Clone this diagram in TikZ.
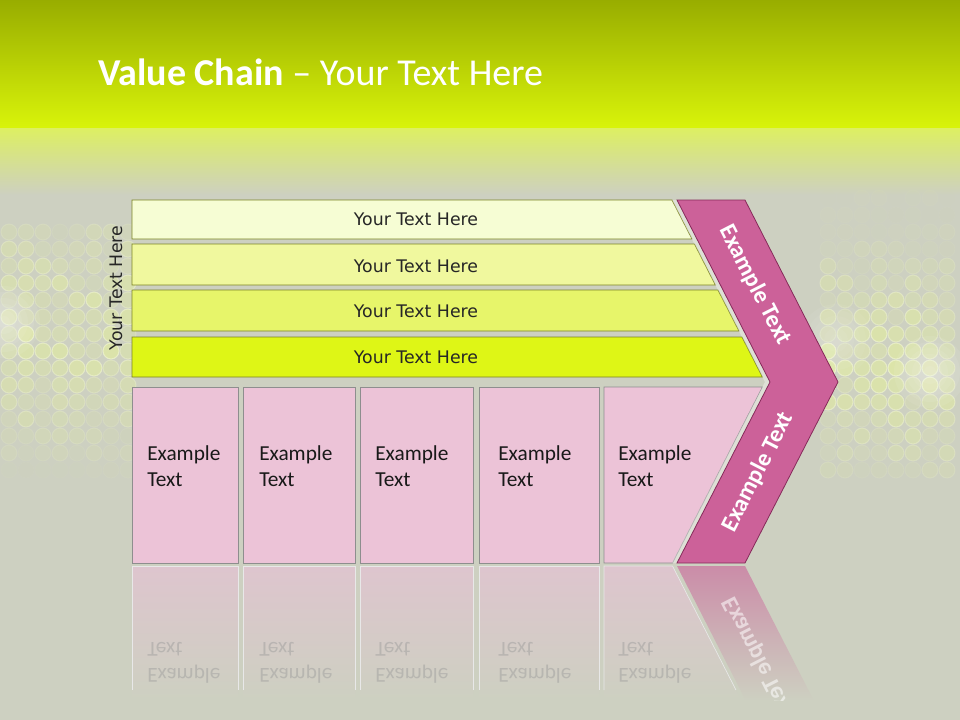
\documentclass[tikz,border=0pt]{standalone}
\usepackage{fontspec}
\setmainfont{Carlito}
\newfontfamily\barfont{DejaVu Sans}

\definecolor{bggrey}{HTML}{CDD0C1}
\definecolor{topolive}{HTML}{98AD00}
\definecolor{toplime}{HTML}{D9F40A}
\definecolor{bandlime}{HTML}{DDEF62}
\definecolor{barone}{HTML}{F6FDD4}
\definecolor{bartwo}{HTML}{F0F89E}
\definecolor{barthree}{HTML}{E7F56A}
\definecolor{barfour}{HTML}{DEF616}
\definecolor{barline}{HTML}{7C8426}
\definecolor{boxpink}{HTML}{ECC3D7}
\definecolor{boxline}{HTML}{8E8E8E}
\definecolor{chevpink}{HTML}{CC6199}
\definecolor{chevline}{HTML}{862A5A}
\definecolor{reflpink}{HTML}{DEC5CE}
\definecolor{reflchev}{HTML}{CB8CA8}
\definecolor{bokeh}{HTML}{E6F29A}

\tikzset{
  bar/.style={draw=barline, line width=0.6pt},
  pinkbox/.style={draw=boxline, fill=boxpink, line width=0.5pt},
  bartext/.style={font=\barfont\fontsize{13bp}{15bp}\selectfont, text=black!85},
  boxtext/.style={font=\fontsize{16bp}{19.5bp}\selectfont, align=left, anchor=west, inner sep=0pt, text=black!90},
  chevtext/.style={font=\bfseries\fontsize{18bp}{20bp}\selectfont, text=white},
  reflbox/.style={top color=reflpink, bottom color=bggrey},
  reflside/.style={draw=boxline!20, line width=0.5pt},
  refltext/.style={boxtext, yscale=-1, text=black!40, opacity=0.45},
  bokehdot/.style={fill=bokeh, draw=white!60!bokeh, line width=0.8pt}
}

\begin{document}
\begin{tikzpicture}[x=0.75bp, y=-0.75bp]
    \useasboundingbox (0,0) rectangle (960,720);
    % background
    \fill[bggrey] (0,0) rectangle (960,720);
    \shade[top color=topolive, bottom color=toplime] (0,0) rectangle (960,128);
    \shade[top color=bandlime, bottom color=bggrey] (0,128) rectangle (960,195);

    % bokeh
    \pgfmathsetseed{11}
    \foreach \cx in {9,26,...,130} \foreach \cy in {232,249,...,470} {
        \pgfmathsetmacro\op{max(0.05,0.75-abs(\cy-335)/200)*(0.3+0.7*rnd)}
        \draw[bokehdot, opacity=\op] (\cx,\cy) circle (8);
    }
    \foreach \cx in {828,845,...,960} \foreach \cy in {198,215,...,480} {
        \pgfmathsetmacro\op{max(0.05,0.7-abs(\cy-365)/220)*(0.3+0.7*rnd)}
        \draw[bokehdot, opacity=\op] (\cx,\cy) circle (8);
    }
    \foreach \r in {6,12,...,36} {
        \fill[white, opacity=0.07] (930,372) circle (\r);
        \fill[white, opacity=0.07] (4,322) circle (\r);
        \fill[white, opacity=0.05] (836,340) circle (\r);
    }

    \node (title) [anchor=base west, inner sep=0pt, text=white, font=\fontsize{28.5bp}{34bp}\selectfont] at (98,85) {\textbf{Value Chain} – Your Text Here};

    % bars
    \draw[bar, fill=barone] (132,200)--(672,200)--(692,239)--(132,239)--cycle;
    \draw[bar, fill=bartwo] (132,244)--(694.5,244)--(715.4,285)--(132,285)--cycle;
    \draw[bar, fill=barthree] (132,290)--(718,290)--(739,331)--(132,331)--cycle;
    \draw[bar, fill=barfour] (132,337)--(742,337)--(762.4,377)--(132,377)--cycle;
    \node (bar1) [bartext] at (416,219) {Your Text Here};
    \node (bar2) [bartext] at (416,266) {Your Text Here};
    \node (bar3) [bartext] at (416,311) {Your Text Here};
    \node (bar4) [bartext] at (416,357) {Your Text Here};
    \node (side) [bartext, rotate=90] at (116,288) {Your Text Here};

    % boxes
    \draw[pinkbox] (132,387) rectangle (238,563);
    \draw[pinkbox] (243,387) rectangle (355,563);
    \draw[pinkbox] (360,387) rectangle (473,563);
    \draw[pinkbox] (479,387) rectangle (599,563);
    \draw[pinkbox] (604,387)--(762.4,387)--(672.5,563)--(604,563)--cycle;
    \node (box1) [boxtext] at (147,466) {Example\\Text};
    \node (box2) [boxtext] at (259,466) {Example\\Text};
    \node (box3) [boxtext] at (375,466) {Example\\Text};
    \node (box4) [boxtext] at (498,466) {Example\\Text};
    \node (box5) [boxtext] at (618,466) {Example\\Text};

    % chevron
    \fill[white, opacity=0.35] (672,200)--(740,200)--(833,382)--(740,563)--(672,563)--(765,382)--cycle;
    \draw[draw=chevline, fill=chevpink, line width=0.6pt] (677,200)--(745,200)--(838,382)--(745,563)--(677,563)--(770,382)--cycle;
    \node (chevtop) [chevtext, rotate=-62.9] at (755,285) {Example Text};
    \node (chevbot) [chevtext, rotate=62.9] at (758,472) {Example Text};

    % reflection
    \shade[reflbox] (132,566) rectangle (238,700);
    \shade[reflbox] (243,566) rectangle (355,700);
    \shade[reflbox] (360,566) rectangle (473,700);
    \shade[reflbox] (479,566) rectangle (599,700);
    \shade[reflbox] (604,566)--(672.5,566)--(741,700)--(604,700)--cycle;
    \draw[reflside] (132,690)--(132,566)--(238,566)--(238,690);
    \draw[reflside] (243,690)--(243,566)--(355,566)--(355,690);
    \draw[reflside] (360,690)--(360,566)--(473,566)--(473,690);
    \draw[reflside] (479,690)--(479,566)--(599,566)--(599,690);
    \draw[reflside] (604,690)--(604,566)--(672.5,566)--(736,690);
    \shade[top color=reflchev, bottom color=bggrey] (677,566)--(745,566)--(813.5,700)--(745.5,700)--cycle;
    \node (refl1) [refltext] at (147,663) {Example\\Text};
    \node (refl2) [refltext] at (259,663) {Example\\Text};
    \node (refl3) [refltext] at (375,663) {Example\\Text};
    \node (refl4) [refltext] at (498,663) {Example\\Text};
    \node (refl5) [refltext] at (618,663) {Example\\Text};
    \begin{scope}
        \clip (677,566)--(745,566)--(813.5,700)--(745.5,700)--cycle;
        \node (reflchev) [chevtext, rotate=-62.9, yscale=-1, opacity=0.55] at (758,657) {Example Text};
    \end{scope}
\end{tikzpicture}
\end{document}
